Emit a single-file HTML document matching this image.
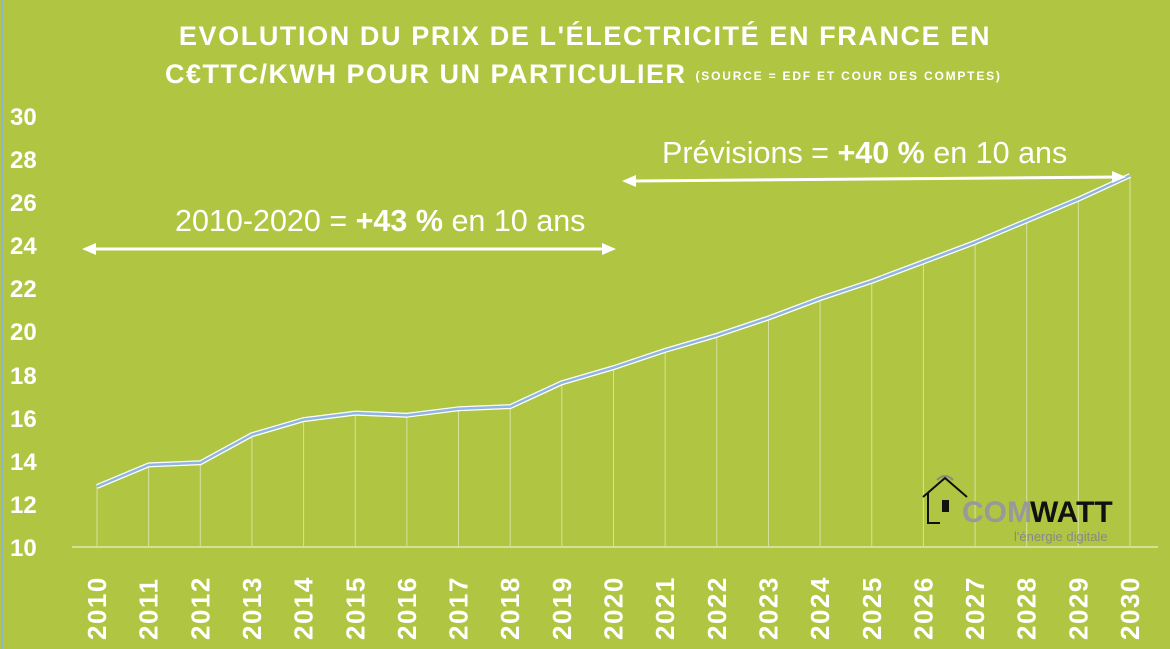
<!DOCTYPE html>
<html><head><meta charset="utf-8"><style>
body{margin:0;width:1170px;height:649px;overflow:hidden;background:#fff}
svg{display:block}
text{font-family:"Liberation Sans",sans-serif}
</style></head><body>
<svg width="1170" height="649" viewBox="0 0 1170 649">
<rect x="0" y="0" width="1170" height="649" fill="#b0c541"/>
<line x1="2" y1="0" x2="2" y2="649" stroke="#8fb7c9" stroke-width="2"/>
<text x="585" y="45" text-anchor="middle" font-size="27" font-weight="bold" fill="#fff" letter-spacing="1.6">EVOLUTION DU PRIX DE L'ÉLECTRICITÉ EN FRANCE  EN</text>
<text x="165" y="83" font-size="27" font-weight="bold" fill="#fff" letter-spacing="1.5">C€TTC/KWH POUR UN PARTICULIER <tspan font-size="12" dy="-3" letter-spacing="1.8">(SOURCE = EDF ET COUR DES COMPTES)</tspan></text>
<g font-size="24" font-weight="bold" fill="#fff">
<text x="10" y="125">30</text><text x="10" y="168">28</text><text x="10" y="211">26</text><text x="10" y="254">24</text><text x="10" y="297">22</text><text x="10" y="340">20</text><text x="10" y="384">18</text><text x="10" y="427">16</text><text x="10" y="470">14</text><text x="10" y="513">12</text><text x="10" y="556">10</text>
</g>
<line x1="72" y1="547" x2="1158" y2="547" stroke="#dfe9b0" stroke-width="1.5"/>
<g id="drops" stroke="#d6e3a0" stroke-width="1"></g>
<polyline id="ln" fill="none" stroke="#fff" stroke-width="5" stroke-linejoin="round"/>
<polyline id="ln2" fill="none" stroke="#8fb6e0" stroke-width="2.5" stroke-linejoin="round"/>
<g id="yrs" font-size="26" font-weight="bold" fill="#fff" letter-spacing="1.5"></g>
<text x="175" y="231" font-size="30.5" fill="#fff">2010-2020 = <tspan font-weight="bold">+43 %</tspan> en 10 ans</text>
<line x1="90" y1="249" x2="608" y2="249" stroke="#fff" stroke-width="3"/>
<path d="M82 249 L96 243 L96 255Z M616 249 L602 243 L602 255Z" fill="#fff"/>
<text x="662" y="163" font-size="30.5" fill="#fff">Prévisions = <tspan font-weight="bold">+40 %</tspan> en 10 ans</text>
<line x1="630" y1="181" x2="1118" y2="177" stroke="#fff" stroke-width="3"/>
<path d="M622 181 L636 175 L636 187Z M1126 177 L1112 171 L1112 183Z" fill="#fff"/>
<g>
<path d="M923 497 L945 478 L967 497 M928 493 L928 523 L940 523" fill="none" stroke="#111" stroke-width="2"/>
<path d="M937 480 Q945 472 953 480" fill="none" stroke="#888" stroke-width="2"/>
<rect x="942" y="500" width="7" height="12" fill="#111"/>
<text x="962" y="522" font-size="30" font-weight="bold" fill="#999">COM</text>
<text x="1030" y="522" font-size="30" font-weight="bold" fill="#111">WATT</text>
<text x="1014" y="541" font-size="13" fill="#888">l'énergie digitale</text>
</g>
</svg>
<script>
var d=[12.8,13.8,13.9,15.2,15.9,16.2,16.1,16.4,16.5,17.6,18.3,19.1,19.8,20.6,21.5,22.3,23.2,24.1,25.1,26.1,27.2];
var ns="http://www.w3.org/2000/svg",pts=[],dg=document.getElementById('drops'),yg=document.getElementById('yrs');
d.forEach(function(v,i){var x=97+i*51.65,y=547-(v-10)*21.6;pts.push(x.toFixed(1)+','+y.toFixed(1));
var l=document.createElementNS(ns,'line');l.setAttribute('x1',x);l.setAttribute('x2',x);l.setAttribute('y1',y);l.setAttribute('y2',547);dg.appendChild(l);
var t=document.createElementNS(ns,'text');t.setAttribute('transform','translate('+(x+9)+',640) rotate(-90)');t.textContent=2010+i;yg.appendChild(t);});
document.getElementById('ln').setAttribute('points',pts.join(' '));
document.getElementById('ln2').setAttribute('points',pts.join(' '));
</script>
</body></html>
